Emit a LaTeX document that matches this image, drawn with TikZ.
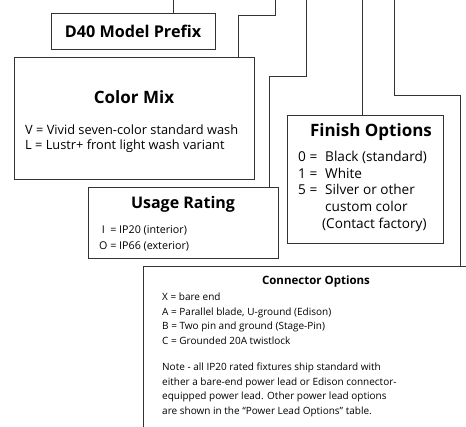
\documentclass[tikz,border=0pt]{standalone}
\usepackage{fontspec}
\setmainfont{Open Sans}
\usetikzlibrary{positioning}

\begin{document}
\begin{tikzpicture}[x=1pt,y=-1pt,
    box/.style={draw=black!80,line width=0.9pt,inner sep=0pt},
    wire/.style={draw=black!80,line width=0.9pt},
    title/.style={font=\bfseries\fontsize{17}{20}\selectfont,inner sep=0pt,anchor=base},
    subtitle/.style={font=\bfseries\fontsize{11.5}{14}\selectfont,inner sep=0pt,anchor=base},
    body/.style={inner sep=0pt,anchor=north west}]

\useasboundingbox (0,0) rectangle (466,427);
\clip (0,0) rectangle (466,427);

\node[box,font=\bfseries\fontsize{16.2}{19}\selectfont,minimum width=164pt,minimum height=35.5pt] (prefix) at (133,31.25) {D40 Model Prefix};
\node[box,minimum width=240pt,minimum height=122pt] (mix)    at (134,118)   {};
\node[box,minimum width=190pt,minimum height=71pt]  (usage)  at (183,222.5) {};
\node[box,minimum width=156pt,minimum height=128pt] (finish) at (365,179)   {};
\node[box,minimum width=360pt,minimum height=200pt] (conn)   at (323,366)   {};

\node[title] (mixtitle)    at (134,103.1) {Color Mix};
\node[title,font=\bfseries\fontsize{16}{19}\selectfont] (usagetitle) at (183,208.7) {Usage Rating};
\node[title] (finishtitle) at (371,136.1) {Finish Options};
\node[subtitle] (conntitle) at (316,284.1) {Connector Options};

\node[body,font=\fontsize{12.8}{15.5}\selectfont] (mixtext) at (25,123.2) {%
  \begin{tabular}{@{}l@{}}
  V = Vivid seven-color standard wash\\
  L = Lustr+ front light wash variant
  \end{tabular}};
\node[body,font=\fontsize{10.7}{16}\selectfont] (usagetext) at (99,221.9) {%
  \begin{tabular}{@{}c@{ }l@{}}
  I & = IP20 (interior)\\
  O & = IP66 (exterior)
  \end{tabular}};
\node[body,font=\fontsize{13.6}{16.6}\selectfont] (finishtext) at (298,149.8) {%
  \begin{tabular}{@{}p{27pt}@{}l@{}}
  0 = & Black (standard)\\
  1 = & White\\
  5 = & Silver or other\\
      & custom color\\
      & \hspace*{-3pt}(Contact factory)
  \end{tabular}};
\node[body,font=\fontsize{10}{14.7}\selectfont] (conntext) at (162,290) {%
  \begin{tabular}{@{}l@{}}
  X = bare end\\
  A = Parallel blade, U-ground (Edison)\\
  B = Two pin and ground (Stage-Pin)\\
  C = Grounded 20A twistlock\\[11.3pt]
  Note - all IP20 rated fixtures ship standard with\\
  either a bare-end power lead or Edison connector-\\
  equipped power lead. Other power lead options\\
  are shown in the “Power Lead Options” table.
  \end{tabular}};

\coordinate (w1) at (173,0);
\coordinate (w2) at (275,0);
\coordinate (w3) at (306,0);
\coordinate (w4) at (362,0);
\coordinate (w5) at (394,0);
\coordinate (k2) at (238,15);
\coordinate (k3) at (269,76.5);
\coordinate (k5) at (460,95.5);

\draw[wire] (w1) -- (w1 |- prefix.north);
\draw[wire] (w2) |- (k2) -- (k2 |- mix.north);
\draw[wire] (w3) |- (k3) -- (k3 |- usage.north);
\draw[wire] (w4) -- (w4 |- finish.north);
\draw[wire] (w5) |- (k5) -- (k5 |- conn.north);

\end{tikzpicture}
\end{document}
